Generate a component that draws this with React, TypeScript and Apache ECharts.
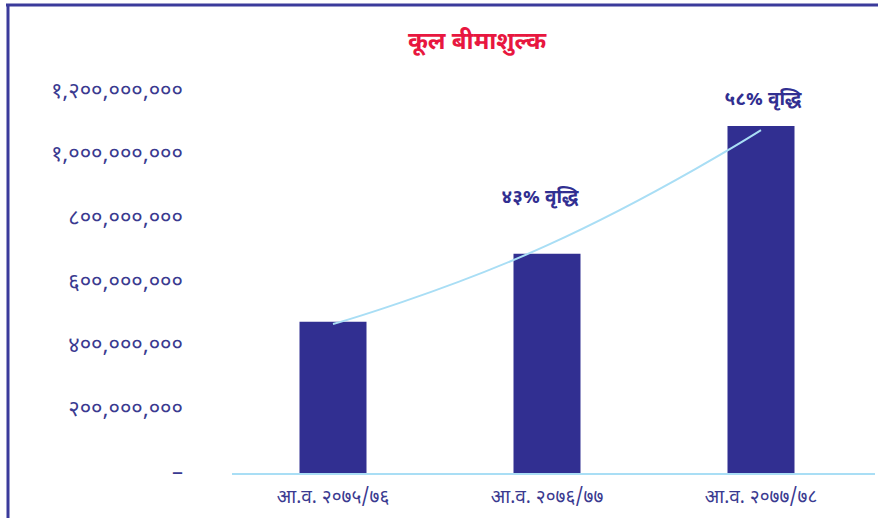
import React, { useEffect, useRef } from "react";
import * as echarts from "echarts";

const titleText = "कूल बीमाशुल्क";
const categories = ["आ.व. २०७५/७६", "आ.व. २०७६/७७", "आ.व. २०७७/७८"];
const premiumValues = [478000000, 692000000, 1093000000];
const trendValues = [471000000, 718000000, 1080000000];
const growthLabels = ["४३% वृद्धि", "५८% वृद्धि"];

const devDigits = ["०", "१", "२", "३", "४", "५", "६", "७", "८", "९"];
function toNepali(v: number): string {
  if (v === 0) return "–";
  const s = Math.round(v).toString().replace(/\B(?=(\d{3})+(?!\d))/g, ",");
  return s.replace(/\d/g, (d) => devDigits[Number(d)]);
}

const FONT = "'Noto Sans Devanagari', 'Noto Sans', 'Lohit Devanagari', 'FreeSans', sans-serif";

export default function App() {
  const ref = useRef<HTMLDivElement>(null);
  useEffect(() => {
    if (!ref.current) return;
    const chart = echarts.init(ref.current, null, { renderer: "svg" });
    chart.setOption({
      animation: false,
      backgroundColor: "#ffffff",
      title: {
        text: titleText,
        left: 472,
        top: 26,
        textAlign: "center",
        textStyle: { color: "#e8173f", fontSize: 24, fontWeight: "bold", fontFamily: FONT },
      },
      grid: { left: 226, right: 10, top: 92, bottom: 44 },
      xAxis: {
        type: "category",
        data: categories,
        axisLine: { show: false },
        axisTick: { show: false },
        axisLabel: { color: "#3a3a90", fontSize: 19, margin: 15, fontFamily: FONT },
      },
      yAxis: {
        type: "value",
        min: 0,
        max: 1200000000,
        interval: 200000000,
        splitLine: { show: false },
        axisLine: { show: false },
        axisTick: { show: false },
        axisLabel: {
          color: "#3a3a90",
          fontSize: 22,
          margin: 43,
          fontFamily: FONT,
          formatter: (v: number) => toNepali(v),
        },
      },
      series: [
        {
          type: "bar",
          data: premiumValues,
          barWidth: 67,
          itemStyle: { color: "#312f91" },
        },
        {
          type: "line",
          data: trendValues,
          smooth: true,
          symbol: "none",
          lineStyle: { color: "#a9def5", width: 2 },
          z: 5,
        },
      ],
      graphic: [
        {
          type: "line",
          shape: { x1: 232, y1: 474, x2: 875, y2: 474 },
          style: { stroke: "#a9def5", lineWidth: 2 },
          z: 10,
        },
        {
          type: "text",
          x: 540,
          y: 198,
          style: {
            text: growthLabels[0],
            fill: "#312f91",
            fontSize: 19,
            fontWeight: "bold",
            fontFamily: FONT,
            align: "center",
            verticalAlign: "middle",
          },
        },
        {
          type: "text",
          x: 763,
          y: 100,
          style: {
            text: growthLabels[1],
            fill: "#312f91",
            fontSize: 19,
            fontWeight: "bold",
            fontFamily: FONT,
            align: "center",
            verticalAlign: "middle",
          },
        },
        {
          type: "line",
          shape: { x1: 6, y1: 5, x2: 878, y2: 5 },
          style: { stroke: "#3b3b9b", lineWidth: 3 },
        },
        {
          type: "line",
          shape: { x1: 8, y1: 4, x2: 8, y2: 518 },
          style: { stroke: "#3b3b9b", lineWidth: 3 },
        },
      ],
    });
    return () => chart.dispose();
  }, []);
  return (
    <div
      ref={ref}
      style={{ position: "fixed", left: 0, top: 0, width: 878, height: 518 }}
    />
  );
}
